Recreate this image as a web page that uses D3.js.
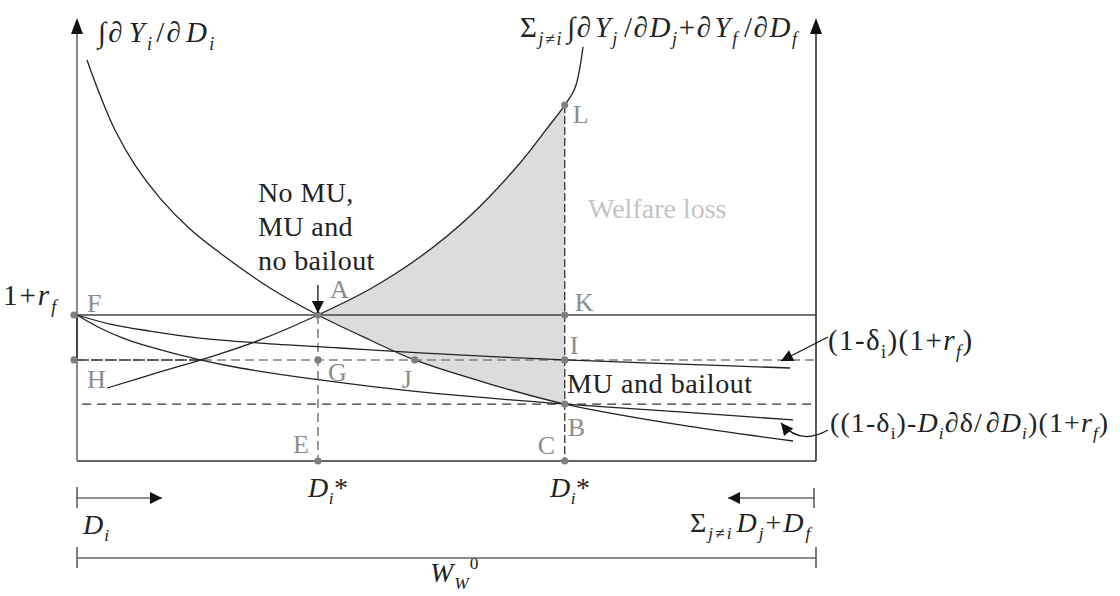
<!DOCTYPE html>
<html><head><meta charset="utf-8">
<script src="https://cdn.jsdelivr.net/npm/d3@7"></script>
<style>html,body{margin:0;padding:0;background:#fff;} svg{display:block;}</style>
</head><body><svg id="chart" width="1120" height="596"></svg>
<script>
// ---------- DATA (x: share of W, y: relative to 1+r_f = 1) ----------
const levelRf = 1.0;          // 1+r_f
const levelDelta = 0.692;     // (1-δ)(1+r_f) level (H, G, J, I)
const levelB = 0.390;         // B level
const xA = 0.326;             // D_i* (no bailout)
const xB = 0.660;             // D_i* (bailout)
const xJ = 0.457;
const yL = 2.438;

// ∫∂Y_i/∂D_i  (own marginal benefit, decreasing)
const mbOwn = [[0.0135,2.747],[0.0311,2.507],[0.0514,2.267],[0.0785,2.027],[0.1123,1.801],
  [0.1529,1.589],[0.1935,1.425],[0.2612,1.185],[0.326,1.0],[0.3965,0.829],[0.457,0.692],
  [0.5589,0.527],[0.660,0.390],[0.816,0.247],[0.969,0.137]];
// Σ ∫∂Y_j/∂D_j + ∂Y_f/∂D_f  (others, increasing)
const mbOthers = [[0.0406,0.500],[0.1123,0.610],[0.180,0.712],[0.2476,0.829],[0.326,1.0],
  [0.3965,1.178],[0.4641,1.397],[0.5318,1.678],[0.5995,2.041],[0.6333,2.260],[0.660,2.438],
  [0.6739,2.555],[0.6847,2.836]];
// (1-δ_i)(1+r_f)
const costDelta = [[0,1.0],[0.0447,0.938],[0.0988,0.890],[0.1664,0.842],[0.2476,0.808],
  [0.3559,0.774],[0.4641,0.740],[0.660,0.692],[0.816,0.664],[0.965,0.637]];
// ((1-δ_i)-D_i ∂δ/∂D_i)(1+r_f)
const costMarg = [[0,1.0],[0.0311,0.911],[0.065,0.836],[0.0988,0.781],[0.1664,0.692],
  [0.2206,0.637],[0.3288,0.555],[0.4641,0.473],[0.660,0.390],[0.816,0.336],[0.969,0.281]];

const points = [
  {id:"F", x:0, y:levelRf}, {id:"H", x:0, y:levelDelta},
  {id:"A", x:xA, y:levelRf}, {id:"G", x:xA, y:levelDelta}, {id:"E", x:xA, y:0},
  {id:"J", x:xJ, y:levelDelta},
  {id:"K", x:xB, y:levelRf}, {id:"I", x:xB, y:levelDelta}, {id:"B", x:xB, y:levelB},
  {id:"C", x:xB, y:0}, {id:"L", x:xB, y:yL}
];
const textNoMU = ["No MU,", "MU and", "no bailout"];
const textMUB = "MU and bailout";
const textWelfare = "Welfare loss";

// ---------- DRAWING ----------
const svg = d3.select("#chart");
const serif = "'Liberation Serif','DejaVu Serif',serif";
const x = d3.scaleLinear().domain([0,1]).range([77,816]);
const y = d3.scaleLinear().domain([0,1]).range([461,315]);
const line = d3.line().x(d=>x(d[0])).y(d=>y(d[1])).curve(d3.curveCatmullRom.alpha(0.5));

svg.append("rect").attr("width",1120).attr("height",596).attr("fill","#fff");

const defs = svg.append("defs");
defs.append("marker").attr("id","arr").attr("viewBox","0 0 10 10").attr("refX",10).attr("refY",5)
  .attr("markerWidth",16).attr("markerHeight",12).attr("markerUnits","userSpaceOnUse").attr("orient","auto")
  .append("path").attr("d","M0,0L10,5L0,10Z").attr("fill","#111");

// shaded welfare loss
const segUp = mbOthers.filter(d=>d[0]>=xA-1e-9 && d[0]<=xB+1e-9);
const segDown = mbOwn.filter(d=>d[0]>=xA-1e-9 && d[0]<=xB+1e-9).reverse();
const pUp = line(segUp);
const pDown = line(segDown).replace(/^M/,"L");
svg.append("path").attr("d", pUp + pDown + "Z").attr("fill","#dcdcdc").attr("stroke","none");

// frame
svg.append("line").attr("x1",x(0)).attr("x2",x(1)).attr("y1",y(0)).attr("y2",y(0)).attr("stroke","#333").attr("stroke-width",1.6);
svg.append("line").attr("x1",x(0)).attr("x2",x(0)).attr("y1",y(0)).attr("y2",32).attr("stroke","#888").attr("stroke-width",2);
svg.append("line").attr("x1",x(0)).attr("x2",x(0)).attr("y1",y(levelRf)).attr("y2",y(levelDelta)).attr("stroke","#444").attr("stroke-width",2);
svg.append("line").attr("x1",x(1)).attr("x2",x(1)).attr("y1",y(0)).attr("y2",32).attr("stroke","#222").attr("stroke-width",1.5);
[x(0), x(1)].forEach(px=>{
  svg.append("path").attr("d",`M${px},18L${px-6},34L${px+6},34Z`).attr("fill","#111");
});

// horizontal levels
svg.append("line").attr("x1",x(0)).attr("x2",x(1)).attr("y1",y(levelRf)).attr("y2",y(levelRf)).attr("stroke","#444").attr("stroke-width",1.3);
svg.append("line").attr("x1",x(0)).attr("x2",x(1)).attr("y1",y(levelDelta)).attr("y2",y(levelDelta)).attr("stroke","#808080").attr("stroke-width",1.6).attr("stroke-dasharray","9,5");
svg.append("line").attr("x1",x(0)).attr("x2",x(0.17)).attr("y1",y(levelDelta)).attr("y2",y(levelDelta)).attr("stroke","#444").attr("stroke-width",1.6).attr("stroke-dasharray","12,2");
svg.append("line").attr("x1",x(0.007)).attr("x2",x(1)).attr("y1",y(levelB)).attr("y2",y(levelB)).attr("stroke","#333").attr("stroke-width",1.3).attr("stroke-dasharray","9,6");

// verticals
svg.append("line").attr("x1",x(xA)).attr("x2",x(xA)).attr("y1",y(levelRf)).attr("y2",y(0)).attr("stroke","#808080").attr("stroke-width",1.6).attr("stroke-dasharray","9,5");
svg.append("line").attr("x1",x(xB)).attr("x2",x(xB)).attr("y1",y(yL)).attr("y2",y(0)).attr("stroke","#333").attr("stroke-width",1.3).attr("stroke-dasharray","8,3");

// curves
[mbOwn, mbOthers, costDelta, costMarg].forEach(c=>{
  svg.append("path").attr("d",line(c)).attr("fill","none").attr("stroke","#222").attr("stroke-width",1.3);
});

// points
points.forEach(p=>{
  const px = p.x===0 ? x(0)-3 : x(p.x);
  svg.append("circle").attr("cx",px).attr("cy",y(p.y)).attr("r",3.6).attr("fill","#7f7f7f");
});
const off = {F:[10,-3],H:[10,28],A:[12,-17],G:[10,21],J:[-13,28],E:[-25,-8],K:[10,-4],I:[5,-6],B:[3,32],C:[-27,-7],L:[8,18]};
points.forEach(p=>{
  svg.append("text").attr("x",x(p.x)+off[p.id][0]).attr("y",y(p.y)+off[p.id][1])
    .attr("font-family",serif).attr("font-size",26).attr("fill","#8c8c8c").text(p.id);
});

// rich text helper
function rich(x0, y0, parts, size, ls, fill){
  const t = svg.append("text").attr("x",x0).attr("y",y0).attr("font-family",serif)
    .attr("font-size",size).attr("fill",fill||"#222").attr("letter-spacing",ls||0);
  parts.forEach(p=>{
    const o = typeof p==="string" ? {t:p} : p;
    let yy=y0, fs=size;
    if(o.sub){ yy=y0+size*0.26; fs=size*0.62; }
    if(o.sup){ yy=y0-size*0.45; fs=size*0.62; }
    const ts=t.append("tspan").attr("y",yy).attr("font-size",fs).text(o.t);
    if(o.it) ts.attr("font-style","italic");
    if(o.dx) ts.attr("dx",o.dx);
  });
  return t;
}
const S = (t,o)=>Object.assign({t:t,sub:true,it:true},o||{});

rich(98,42,["∫∂",{t:"Y",it:true,dx:4},S("i"),{t:"/",dx:2},"∂",{t:"D",it:true,dx:3},S("i")],29,2.2);
rich(520,37,["Σ",S("j≠i"),{t:"∫∂",dx:4},{t:"Y",it:true,dx:2},S("j"),{t:"/∂",dx:5},{t:"D",it:true},S("j"),"+∂",{t:"Y",it:true,dx:2},S("f"),{t:"/∂",dx:5},{t:"D",it:true},S("f")],29,1.6);
rich(3,305,["1+",{t:"r",it:true},S("f")],29,2);
rich(828,350,["(1-δ",S("i",{it:false}),")(1+",{t:"r",it:true},S("f"),")"],29,1.4);
rich(830,432,["((1-δ",S("i",{it:false}),")-",{t:"D",it:true},S("i"),"∂δ/",{t:"∂",dx:3},{t:"D",it:true},S("i"),")(1+",{t:"r",it:true},S("f"),")"],28,1.1);
rich(308,497,[{t:"D",it:true},S("i"),{t:"*",dx:0}],28,0.5);
rich(550,497,[{t:"D",it:true},S("i"),{t:"*",dx:0}],28,0.5);
rich(83,534,[{t:"D",it:true},S("i")],28,1);
rich(690,532,["Σ",S("j≠i"),{t:"D",it:true,dx:3},S("j"),"+",{t:"D",it:true},S("f")],28,2);
rich(430,582,[{t:"W",it:true},S("W"),{t:"0",sup:true,dx:0}],28,1);

// text blocks
textNoMU.forEach((s,i)=>{
  svg.append("text").attr("x",258).attr("y",202+i*34).attr("font-family",serif).attr("font-size",28).attr("fill","#222").attr("letter-spacing",0.4).text(s);
});
svg.append("text").attr("x",567).attr("y",393).attr("font-family",serif).attr("font-size",28).attr("fill","#222").attr("letter-spacing",0.6).text(textMUB);
svg.append("text").attr("x",588).attr("y",218).attr("font-family",serif).attr("font-size",28).attr("fill","#c4c4c4").text(textWelfare);

// arrow to A
svg.append("line").attr("x1",x(xA)).attr("x2",x(xA)).attr("y1",285).attr("y2",y(levelRf)-2)
  .attr("stroke","#111").attr("stroke-width",1.3).attr("marker-end","url(#arr)");
// label arrows
svg.append("path").attr("d","M828,337 L781,361").attr("fill","none").attr("stroke","#111").attr("stroke-width",1.2).attr("marker-end","url(#arr)");
svg.append("path").attr("d","M828,430 Q800,446 781,423").attr("fill","none").attr("stroke","#111").attr("stroke-width",1.2).attr("marker-end","url(#arr)");

// bottom direction arrows
svg.append("line").attr("x1",x(0)).attr("x2",x(0)).attr("y1",487).attr("y2",508).attr("stroke","#555").attr("stroke-width",1.5);
svg.append("line").attr("x1",x(0)).attr("x2",162).attr("y1",498).attr("y2",498).attr("stroke","#222").attr("stroke-width",1.2).attr("marker-end","url(#arr)");
svg.append("line").attr("x1",x(1)-2).attr("x2",x(1)-2).attr("y1",488).attr("y2",508).attr("stroke","#555").attr("stroke-width",1.5);
svg.append("line").attr("x1",x(1)-2).attr("x2",728).attr("y1",498).attr("y2",498).attr("stroke","#222").attr("stroke-width",1.2).attr("marker-end","url(#arr)");
// W range
svg.append("line").attr("x1",x(0)).attr("x2",x(1)).attr("y1",558).attr("y2",558).attr("stroke","#666").attr("stroke-width",1.5);
[x(0),x(1)].forEach(px=>svg.append("line").attr("x1",px).attr("x2",px).attr("y1",547).attr("y2",568).attr("stroke","#555").attr("stroke-width",1.5));
</script></body></html>
